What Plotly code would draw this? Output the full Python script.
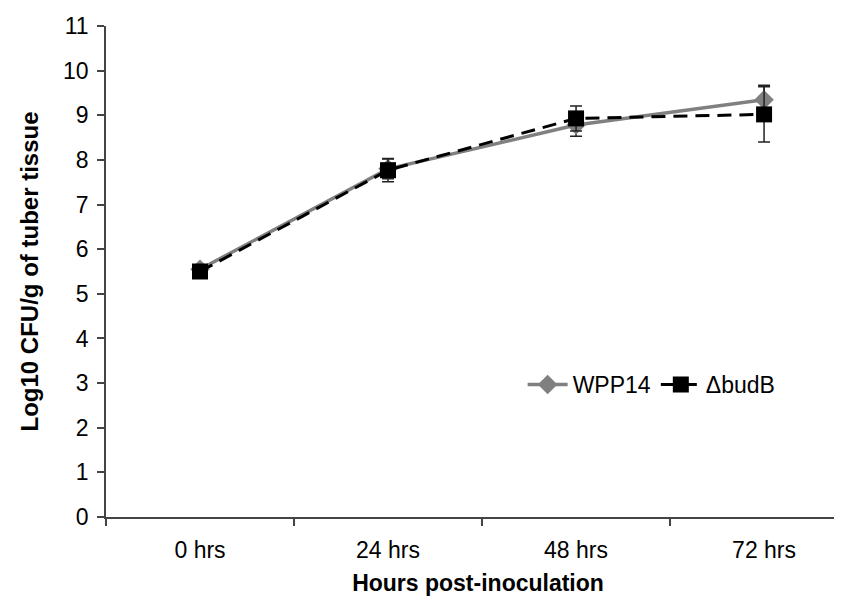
import plotly.graph_objects as go

categories = ["0 hrs", "24 hrs", "48 hrs", "72 hrs"]
wpp14 = [5.55, 7.80, 8.78, 9.35]
wpp14_err = [0.10, 0.22, 0.25, 0.32]
budb = [5.50, 7.77, 8.93, 9.02]
budb_err = [0.15, 0.26, 0.28, 0.62]

FONT = "Liberation Sans, Arial, sans-serif"

fig = go.Figure()
fig.add_trace(go.Scatter(
    x=categories, y=wpp14, name="WPP14", mode="lines+markers",
    line=dict(color="#808080", width=3.5),
    marker=dict(symbol="diamond", size=15, color="#808080"),
    error_y=dict(type="data", array=wpp14_err, color="#222222", thickness=1.5, width=6),
))
fig.add_trace(go.Scatter(
    x=categories, y=budb, name="\u0394budB", mode="lines+markers",
    line=dict(color="#000000", width=3, dash="14px,8px"),
    marker=dict(symbol="square", size=16, color="#000000"),
    error_y=dict(type="data", array=budb_err, color="#222222", thickness=1.5, width=6),
))

fig.update_layout(
    width=842, height=605,
    margin=dict(l=98, r=0, t=18, b=96),
    plot_bgcolor="white", paper_bgcolor="white",
    font=dict(family=FONT, size=23, color="#000000"),
    showlegend=True,
    legend=dict(
        x=0.56, y=0.27, xanchor="left", yanchor="middle",
        orientation="h", bgcolor="rgba(0,0,0,0)",
        font=dict(family=FONT, size=23),
        itemwidth=40,
    ),
    xaxis=dict(
        type="category", range=[-0.5, 3.457],
        showline=True, linecolor="#444444", linewidth=1.5,
        ticks="outside", ticklen=7, tickcolor="#444444", tickwidth=1.5,
        tickson="boundaries", showgrid=False, zeroline=False,
        ticklabelstandoff=12,
        tickfont=dict(family=FONT, size=23),
        title=dict(text="<b>Hours post-inoculation</b>", standoff=13,
                   font=dict(family=FONT, size=23)),
    ),
    yaxis=dict(
        range=[0, 11], tickmode="linear", tick0=0, dtick=1,
        showline=True, linecolor="#444444", linewidth=1.5,
        ticks="outside", ticklen=7, tickcolor="#444444", tickwidth=1.5,
        showgrid=False, zeroline=False,
        ticklabelstandoff=4,
        tickfont=dict(family=FONT, size=23),
        title=dict(text="<b>Log10 CFU/g of tuber tissue</b>", standoff=18,
                   font=dict(family=FONT, size=24)),
    ),
)

fig.write_html("out.html")
